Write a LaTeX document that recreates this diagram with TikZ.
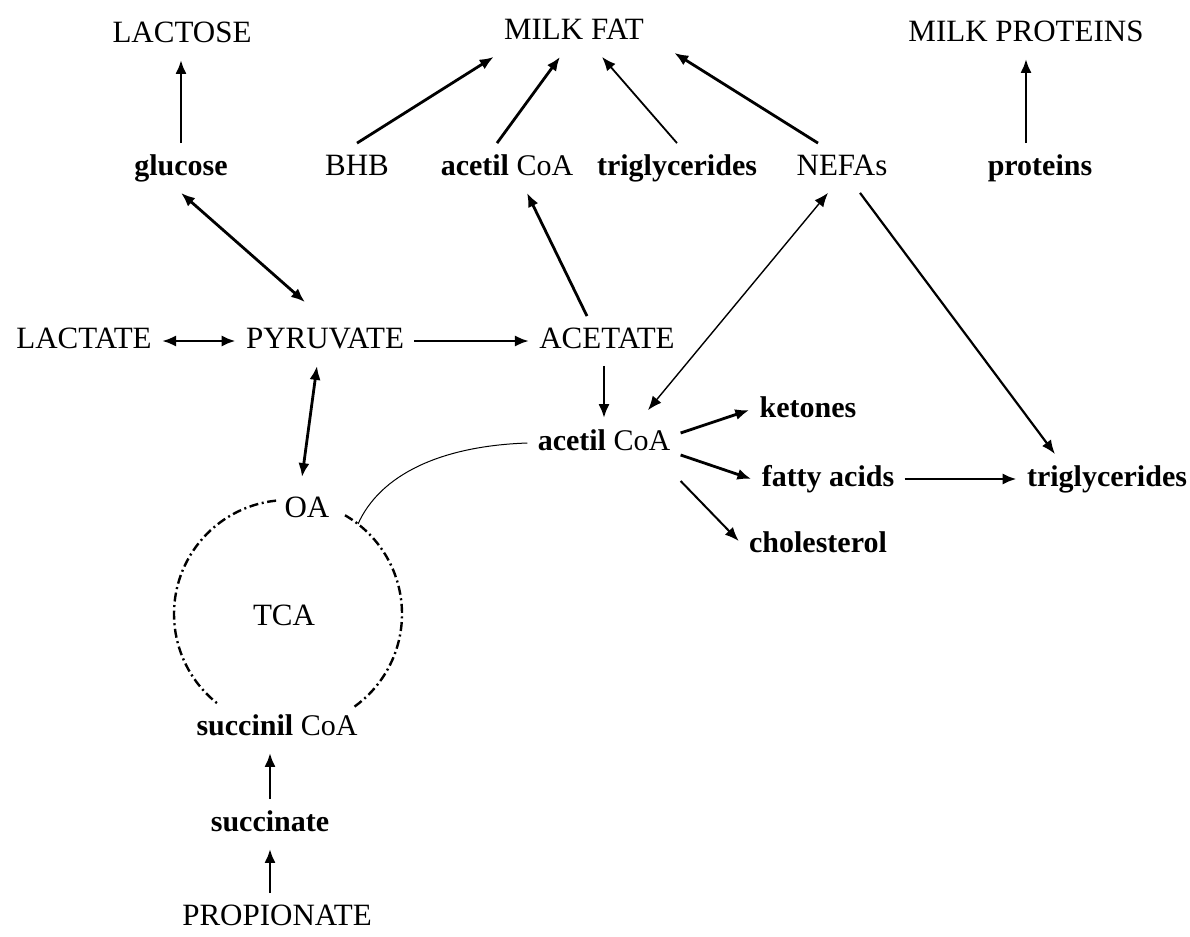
\documentclass[tikz,border=0pt]{standalone}
\usepackage{fontspec}
\setmainfont{Liberation Serif}
\usetikzlibrary{arrows.meta}

\begin{document}
\begin{tikzpicture}[x=0.5pt,y=0.5pt,
    pool/.style={font=\fontsize{15.5}{18}\selectfont,text height=11pt,text depth=3.5pt,inner sep=5pt},
    metab/.style={pool,font=\fontsize{15}{18}\selectfont\bfseries},
    flow/.style={-{Latex[length=7pt,width=5.6pt]},line width=1.4pt},
    both/.style={{Latex[length=7pt,width=5.6pt]}-{Latex[length=7pt,width=5.6pt]},line width=1.4pt},
    tcaring/.style={line width=1.2pt,dash pattern=on 4.5pt off 1.8pt on 1pt off 1.8pt}]
    \useasboundingbox (0,0) rectangle (1190,-937);

    \node[pool,name=lactose] at (182,-35) {LACTOSE};
    \node[pool,name=milkfat] at (574,-32) {MILK FAT};
    \node[pool,name=milkprot] at (1026,-34) {MILK PROTEINS};

    \node[metab,name=glucose] at (181,-168) {glucose};
    \node[pool,name=bhb] at (357,-168) {BHB};
    \node[metab,name=acetiltop] at (507,-168) {acetil \textmd{CoA}};
    \node[metab,name=trigtop] at (677,-168) {triglycerides};
    \node[pool,name=nefas] at (842,-168) {NEFAs};
    \node[metab,name=proteins] at (1040,-168) {proteins};

    \node[pool,name=lactate] at (84,-341) {LACTATE};
    \node[pool,name=pyruvate] at (325,-341) {PYRUVATE};
    \node[pool,name=acetate] at (607,-341) {ACETATE};

    \node[metab,name=acetilmid] at (604,-443) {acetil \textmd{CoA}};
    \node[metab,name=ketones] at (808,-410) {ketones};
    \node[metab,name=fatty] at (828,-479) {fatty acids};
    \node[metab,name=trigright] at (1107,-479) {triglycerides};
    \node[metab,name=cholesterol] at (818,-545) {cholesterol};

    \node[pool,name=oa] at (307,-510) {OA};
    \node[pool,name=tca] at (284,-618) {TCA};
    \node[metab,name=succinil] at (277,-728) {succinil \textmd{CoA}};
    \node[metab,name=succinate] at (270,-824) {succinate};
    \node[pool,name=propionate] at (277,-918) {PROPIONATE};

    \coordinate (ring) at (288,-614);
    \coordinate (ringend) at (358,-524);

    \path[flow] (glucose.north) edge (glucose.north |- lactose.south)
                (bhb.north) edge (milkfat.south west)
                ([xshift=-5pt]acetiltop.north) edge ([xshift=-7pt]milkfat.south)
                ([xshift=-12pt]nefas.north) edge ([xshift=10pt,yshift=2pt]milkfat.south east)
                (proteins.north -| milkprot.south) edge (milkprot.south)
                (pyruvate) edge (acetate)
                ([xshift=-10pt]acetate.north) edge ([xshift=10pt]acetiltop.south)
                (acetilmid.north |- acetate.south) edge (acetilmid.north)
                ([yshift=5pt]acetilmid.east) edge (ketones.west)
                ([yshift=-6pt]acetilmid.east) edge (fatty.west)
                (fatty) edge (trigright)
                (succinate.north) edge (succinate.north |- succinil.south)
                (succinate.south |- propionate.north) edge (succinate.south);
    \path[flow,line width=0.9pt] (trigtop.north) edge ([xshift=14pt]milkfat.south);
    \path[flow,line width=1.1pt] ([xshift=9pt]nefas.south) edge ([xshift=-26pt]trigright.north);
    \path[flow,line width=1pt] ([yshift=-19pt]acetilmid.east) edge ([yshift=2pt]cholesterol.west);

    \path[both] (glucose.south) edge ([xshift=-10pt,yshift=7pt]pyruvate.north)
                (lactate) edge (pyruvate)
                ([xshift=-4pt]pyruvate.south) edge ([xshift=-2.5pt,yshift=4pt]oa.north);
    \path[both,line width=0.7pt] ([xshift=-7pt]nefas.south) edge ([xshift=22pt,yshift=4pt]acetilmid.north);

    \draw[tcaring] (ring) ++(96:114) arc[start angle=96,end angle=232,radius=114];
    \draw[tcaring] (ring) ++(60:114) arc[start angle=60,end angle=-55,radius=114];
    \draw[line width=0.5pt] (acetilmid.west) .. controls (440,-446) and (380,-475) .. (ringend);
\end{tikzpicture}
\end{document}
